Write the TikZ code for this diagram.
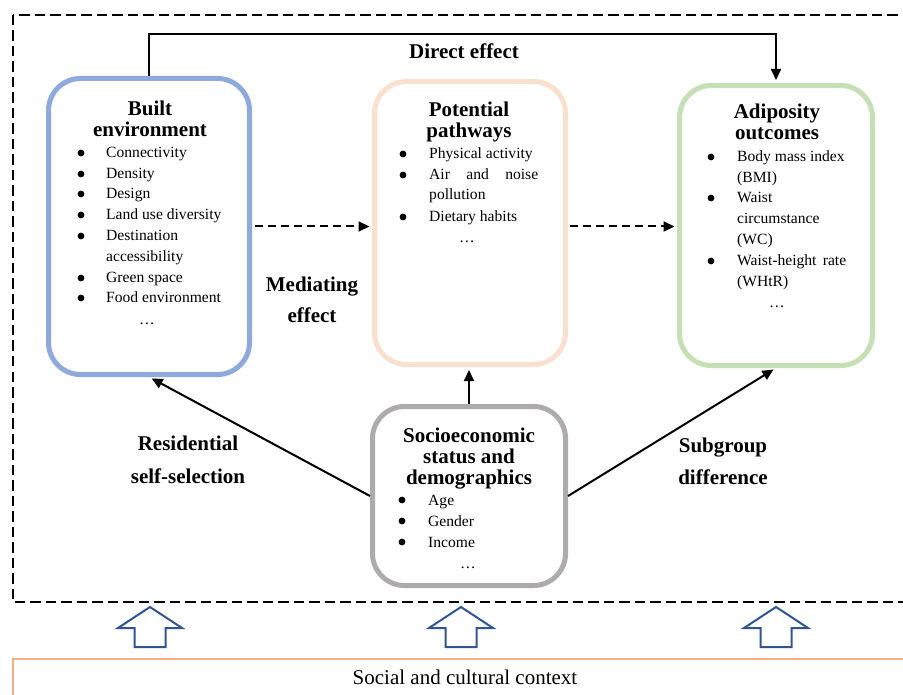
\documentclass[tikz,border=0pt]{standalone}
\usepackage{fontspec}
\setmainfont{Liberation Serif}
\usetikzlibrary{arrows.meta,calc}
\definecolor{beblue}{RGB}{142,169,219}
\definecolor{pppeach}{RGB}{250,224,207}
\definecolor{aogreen}{RGB}{197,224,180}
\definecolor{sesgray}{RGB}{175,171,171}
\definecolor{arrblue}{RGB}{47,85,151}
\definecolor{ctxorange}{RGB}{244,177,131}
\begin{document}
\begin{tikzpicture}[x=1pt,y=-1pt,
  cbox/.style={draw=#1, line width=5pt, rounded corners=32pt, fill=white, inner sep=0pt},
  hd/.style={font=\fontsize{21pt}{21pt}\bfseries\selectfont, anchor=base, inner sep=0pt},
  itm/.style={font=\fontsize{15.6pt}{18pt}\selectfont, anchor=base west, inner sep=0pt},
  bul/.style={circle, fill=black, inner sep=0pt, minimum size=6.8pt, yshift=5pt},
  dots/.style={font=\fontsize{15.6pt}{18pt}\selectfont, anchor=base, inner sep=0pt},
  solidarrow/.style={draw, line width=2pt, shorten >=3pt, -{Triangle[length=11pt,width=10pt]}},
  dasharrow/.style={draw, line width=2pt, dash pattern=on 8pt off 5pt, shorten >=2.5pt, -{Triangle[length=11pt,width=10pt]}},
  blockarrow/.style={draw=arrblue, line width=2pt, fill=white},
]
\useasboundingbox (0,0) rectangle (903,695);
\clip (0,0) rectangle (903,695);
\fill[white] (0,0) rectangle (903,695);

% outer dashed frame
\draw[line width=2pt, dash pattern=on 10.5pt off 5pt] (12.7,15) rectangle (930,602);

% boxes
\node[cbox=beblue, minimum width=201pt, minimum height=296pt] (be) at (149,226.5) {};
\node[cbox=pppeach, minimum width=191pt, minimum height=283pt] (pp) at (470,223) {};
\node[cbox=aogreen, minimum width=193pt, minimum height=280pt] (ao) at (776,225.5) {};
\node[cbox=sesgray, minimum width=193pt, minimum height=179pt] (ses) at (469,496) {};

% Built environment
\node[hd] (beh1) at (150,115.5) {Built};
\node[hd] (beh2) at (150,136.5) {environment};
\node[bul] (beb1) at (81,158) {};
\node[itm] (bet1) at (106,158) {Connectivity};
\node[bul] (beb2) at (81,179) {};
\node[itm] (bet2) at (106,179) {Density};
\node[bul] (beb3) at (81,199) {};
\node[itm] (bet3) at (106,199) {Design};
\node[bul] (beb4) at (81,220) {};
\node[itm] (bet4) at (106,220) {Land use diversity};
\node[bul] (beb5) at (81,241) {};
\node[itm] (bet5) at (106,241) {Destination};
\node[itm] (bet6) at (106,262) {accessibility};
\node[bul] (beb7) at (81,283) {};
\node[itm] (bet7) at (106,283) {Green space};
\node[bul] (beb8) at (81,303) {};
\node[itm] (bet8) at (106,303) {Food environment};
\node[dots] (bed) at (147,325) {…};

% Potential pathways
\node[hd] (pph1) at (469,117) {Potential};
\node[hd] (pph2) at (469,138) {pathways};
\node[bul] (ppb1) at (403,159) {};
\node[itm] (ppt1) at (429,159) {Physical activity};
\node[bul] (ppb2) at (403,180) {};
\node[itm] (ppt2) at (429,180) {\makebox[109pt][s]{Air and noise}};
\node[itm] (ppt3) at (429,200) {pollution};
\node[bul] (ppb4) at (403,222) {};
\node[itm] (ppt4) at (429,222) {Dietary habits};
\node[dots] (ppd) at (467,243) {…};

% Adiposity outcomes
\node[hd] (aoh1) at (777,119) {Adiposity};
\node[hd] (aoh2) at (777,140) {outcomes};
\node[bul] (aob1) at (711,162) {};
\node[itm] (aot1) at (737,162) {Body mass index};
\node[itm] (aot2) at (737,183) {(BMI)};
\node[bul] (aob3) at (711,203) {};
\node[itm] (aot3) at (737,203) {Waist};
\node[itm] (aot4) at (737,224) {circumstance};
\node[itm] (aot5) at (737,245) {(WC)};
\node[bul] (aob6) at (711,266) {};
\node[itm] (aot6) at (737,266) {\makebox[109pt][s]{Waist-height rate}};
\node[itm] (aot7) at (737,287) {(WHtR)};
\node[dots] (aod) at (777,308) {…};

% Socioeconomic status
\node[hd] (sesh1) at (469,442) {Socioeconomic};
\node[hd] (sesh2) at (469,463) {status and};
\node[hd] (sesh3) at (469,484) {demographics};
\node[bul] (sesb1) at (402,505) {};
\node[itm] (sest1) at (428,505) {Age};
\node[bul] (sesb2) at (402,526) {};
\node[itm] (sest2) at (428,526) {Gender};
\node[bul] (sesb3) at (402,547) {};
\node[itm] (sest3) at (428,547) {Income};
\node[dots] (sesd) at (468,568) {…};

% labels
\node[hd] (lde) at (464,59) {Direct effect};
\node[hd] (lme1) at (312,292) {Mediating};
\node[hd] (lme2) at (312,323) {effect};
\node[hd] (lrs1) at (188,450) {Residential};
\node[hd] (lrs2) at (188,483) {self-selection};
\node[hd] (lsd1) at (723,452) {Subgroup};
\node[hd] (lsd2) at (723,484) {difference};

% connectors
\draw[solidarrow] (be.north) -- ++(0,-41.5) -| (ao.north);
\draw[dasharrow, shorten <=3pt] (be.east) -- (be.east -| pp.west);
\draw[dasharrow, shorten <=2pt] (pp.east |- be.east) -- (be.east -| ao.west);
\draw[solidarrow] (ses.north) -- (ses.north |- pp.south);
\draw[solidarrow] (ses.west) -- (be.south);
\draw[solidarrow] (ses.east) -- (ao.south);

% block arrows
\foreach \cx in {150,461,776}{
  \draw[blockarrow] (\cx,607) -- (\cx+32,628) -- (\cx+15.5,628) -- (\cx+15.5,647)
    -- (\cx-15.5,647) -- (\cx-15.5,628) -- (\cx-32,628) -- cycle;
}

% social and cultural context
\draw[ctxorange, line width=2pt] (12.7,659) rectangle (930,730);
\node[font=\fontsize{21pt}{21pt}\selectfont, anchor=base, inner sep=0pt] (ctx) at (465,684) {Social and cultural context};
\end{tikzpicture}
\end{document}
